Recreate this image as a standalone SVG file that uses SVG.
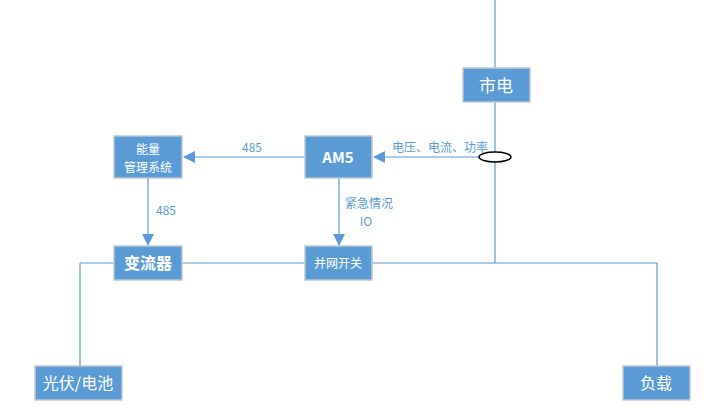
<svg xmlns="http://www.w3.org/2000/svg" width="718" height="413" viewBox="0 0 718 413">
<defs><marker id="a" markerWidth="12" markerHeight="12" refX="11" refY="6" orient="auto" markerUnits="userSpaceOnUse"><path d="M0,0L12,6L0,12z" fill="#5b9bd5"/></marker></defs>
<style>
.b{fill:#5b9bd5;stroke:#bfc7d0;stroke-width:1.5}
.t{fill:#fff;font-family:"Noto Sans CJK SC",sans-serif;text-anchor:middle}
.l{stroke:#5b9bd5;stroke-width:1.2;fill:none}
.s{fill:#5b9bd5;font-family:"Noto Sans CJK SC",sans-serif;font-size:12px}
</style>
<rect width="718" height="413" fill="#fff"/>
<g id="connectors">
<path class="l" d="M495,0V263M80,263H657M80,263V366M657,263V366"/>
<path class="l" d="M483,157H374" marker-end="url(#a)"/>
<path class="l" d="M305,157H184" marker-end="url(#a)"/>
<path class="l" d="M148,178V245" marker-end="url(#a)"/>
<path class="l" d="M339,178V245" marker-end="url(#a)"/>
<ellipse cx="495" cy="157" rx="16" ry="5" fill="#fff" stroke="#000" stroke-width="1.5"/>
<text class="s" x="392" y="152" font-size="10">电压、电流、功率</text>
<text class="s" x="242" y="152">485</text>
<text class="s" x="156" y="215">485</text>
<text class="s" x="345" y="208">紧急情况</text>
<text class="s" x="366" y="226" text-anchor="middle">IO</text>
</g>
<g id="n1"><rect class="b" x="463" y="68" width="67" height="34"/><text class="t" x="496" y="92" font-size="17">市电</text></g>
<g id="n2"><rect class="b" x="114" y="136" width="68" height="42"/><text class="t" x="148" y="154" font-size="12">能量</text><text class="t" x="148" y="172" font-size="12">管理系统</text></g>
<g id="n3"><rect class="b" x="305" y="136" width="67" height="42"/><text class="t" x="338" y="163" font-size="15" font-weight="bold" font-family="Liberation Sans">AM5</text></g>
<g id="n4"><rect class="b" x="114" y="246" width="68" height="34"/><text class="t" x="148" y="269" font-size="16" font-weight="bold">变流器</text></g>
<g id="n5"><rect class="b" x="305" y="246" width="67" height="34"/><text class="t" x="338" y="268" font-size="12">并网开关</text></g>
<g id="n6"><rect class="b" x="35" y="366" width="87" height="34"/><text class="t" x="78" y="389" font-size="16">光伏/电池</text></g>
<g id="n7"><rect class="b" x="623" y="366" width="67" height="34"/><text class="t" x="656" y="389" font-size="16">负载</text></g>
</svg>
